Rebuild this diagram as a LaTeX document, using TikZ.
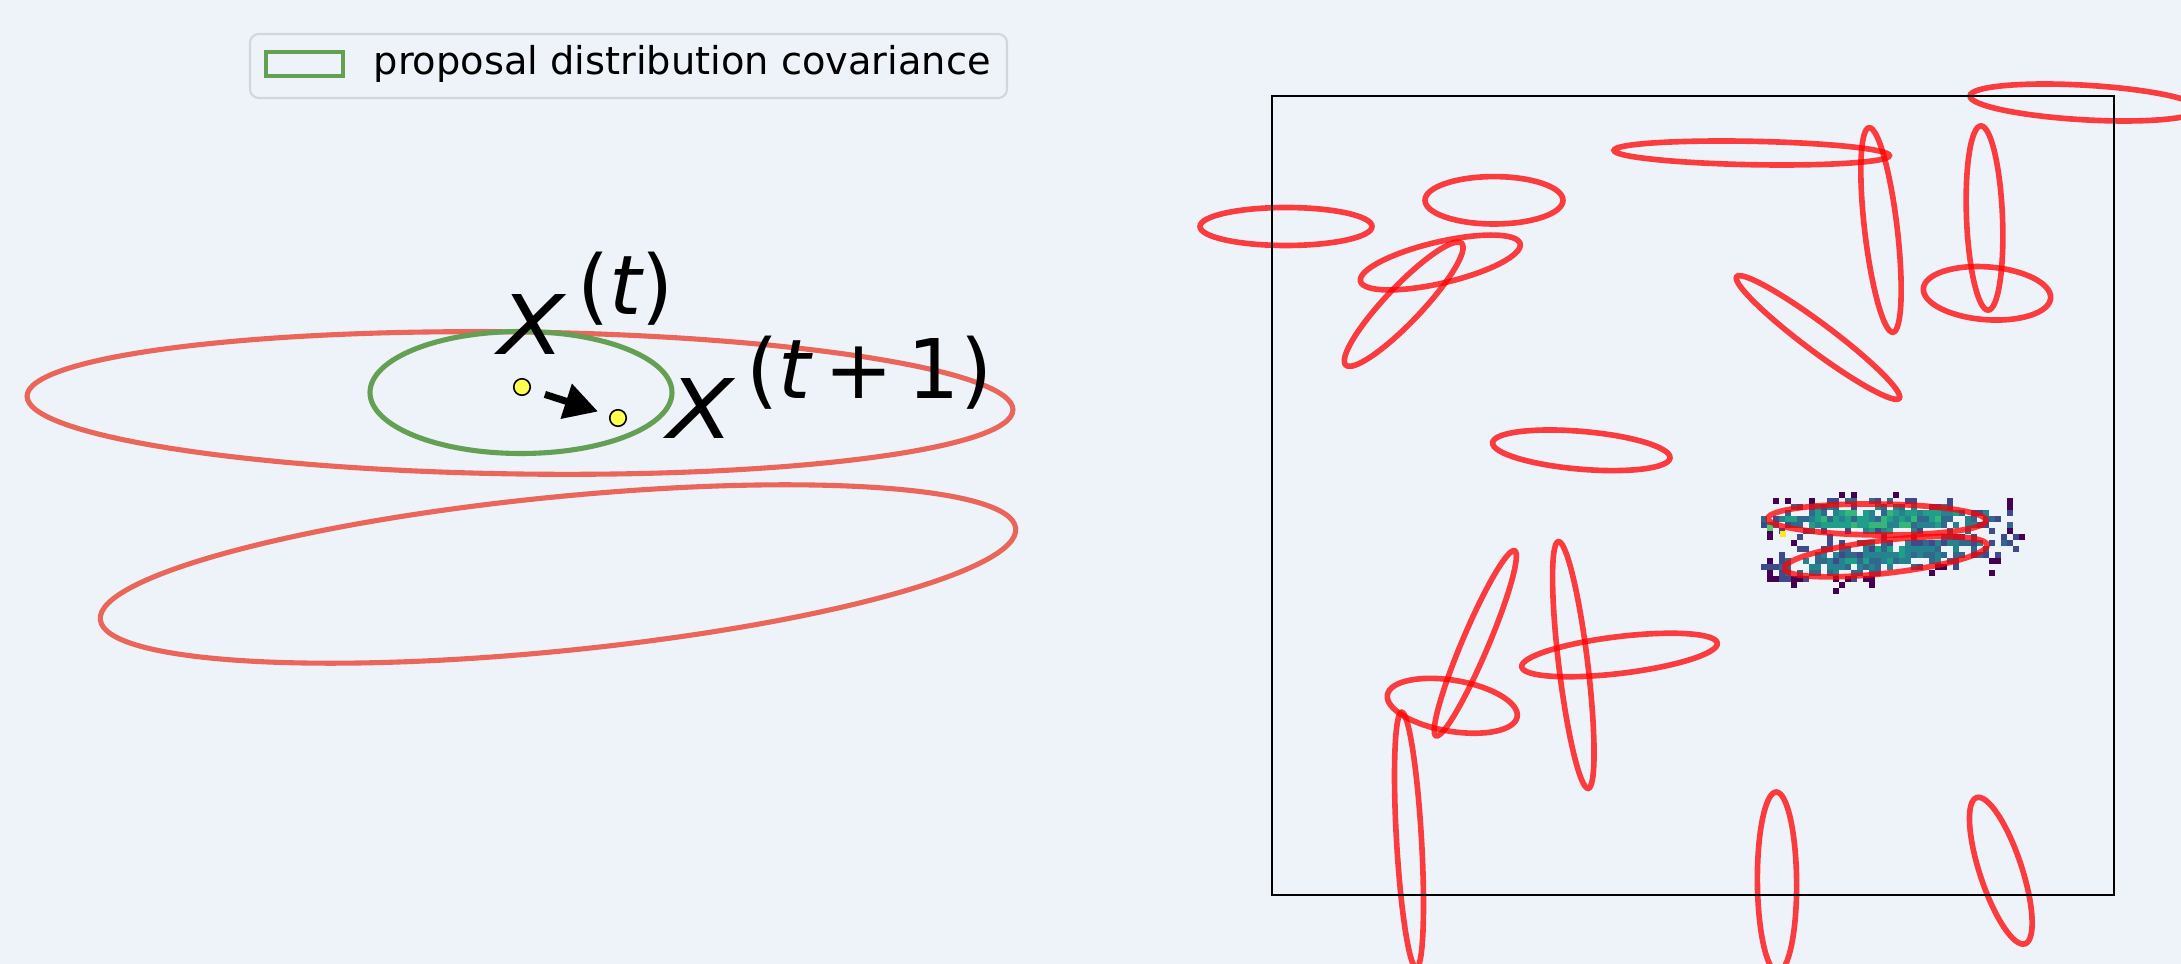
\documentclass[tikz,border=0pt]{standalone}
\usepackage{fontspec}
\setmainfont{DejaVu Sans}
\usepackage{xcolor}
\definecolor{paneBg}{HTML}{EEF2F9}
\definecolor{tgtRed}{HTML}{EA665A}
\definecolor{propGreen}{HTML}{63A054}
\definecolor{lgdEdge}{HTML}{D2D5DA}
\definecolor{dotYellow}{HTML}{FFFF4D}
\definecolor{vA}{HTML}{440154}
\definecolor{vB}{HTML}{3E4A89}
\definecolor{vC}{HTML}{31688E}
\definecolor{vD}{HTML}{26828E}
\definecolor{vE}{HTML}{1F9E89}
\definecolor{vF}{HTML}{35B779}
\definecolor{vG}{HTML}{5EC962}
\definecolor{vH}{HTML}{FDE725}
\usepackage{tikz}
\usetikzlibrary{arrows.meta}

\begin{document}
\begin{tikzpicture}[x=0.01cm, y=-0.01cm,
  targetell/.style={draw=tgtRed, line width=1.45pt},
  propell/.style={draw=propGreen, line width=1.45pt},
  fitell/.style={draw=red, draw opacity=0.75, line width=1.6pt},
  dotpt/.style={circle, draw=black, line width=0.45pt, fill=dotYellow, minimum size=0.165cm, inner sep=0pt},
  jumparrow/.style={-{Triangle[length=9.5pt,width=10pt]}, line width=2pt, shorten <=0.15cm, shorten >=0.12cm},
  xlab/.style={anchor=base west, inner sep=0pt, font=\fontsize{23.4}{28}\selectfont}]
  \useasboundingbox (0,0) rectangle (2181,964);
  \fill[paneBg] (0,0) rectangle (2181,964);
  \clip (0,0) rectangle (2181,964);
  % ------- left: target covariances and one proposal move -------
  \draw[targetell, rotate around={-0.8:(520,403)}] (520,403) ellipse [x radius=493, y radius=71];
  \draw[targetell, rotate around={5.7:(558,574)}] (558,574) ellipse [x radius=460, y radius=77];
  \draw[propell] (521,392.5) ellipse [x radius=151, y radius=61];
  \node[dotpt] (xold) at (522,387) {};
  \node[dotpt] (xnew) at (618,418) {};
  \draw[jumparrow] (xold) -- (xnew);
  \node[xlab] (lblold) at (498,355) {\itshape\scalebox{1.18}[1]{X}\kern3.5pt\raisebox{11.5pt}{\upshape(\itshape t\upshape)}};
  \node[xlab] (lblnew) at (667,439) {\itshape\scalebox{1.18}[1]{X}\kern3.5pt\raisebox{11.4pt}{\upshape(\itshape t\upshape\kern4pt+\kern4pt1)}};
  % legend
  \draw[lgdEdge, line width=0.6pt, fill=paneBg, rounded corners=2.5pt] (250,34) rectangle (1007,98);
  \node[draw=propGreen, line width=1.2pt, minimum width=0.77cm, minimum height=0.24cm, inner sep=0pt] (lgdkey) at (304.5,64) {};
  \node[anchor=base west, inner sep=0pt, font=\fontsize{10.9}{13}\selectfont] (lgdtext) at (373,75) {proposal distribution covariance};
  % ------- right: sample histogram and fitted covariances -------
  \pgfmathsetseed{11}
  \foreach \i in {0,...,43} {
    \foreach \j in {0,...,16} {
      \pgfmathsetmacro\hx{1761+6*\i}
      \pgfmathsetmacro\hy{492+6*\j}
      \pgfmathsetmacro\da{((\hx+3-1877)/105)^2+((\hy+3-519)/14)^2}
      \pgfmathsetmacro\db{((\hx+3-1885)/100)^2+((\hy+3-556+0.116*(\hx+3-1885))/15)^2}
      \pgfmathsetmacro\dd{min(\da,\db)}
      \pgfmathsetmacro\pr{exp(-0.7*\dd)}
      \pgfmathsetmacro\ru{rnd}
      \ifdim\ru pt<\pr pt
        \pgfmathsetmacro\vv{(\da<\db ? 1 : 0.78)*exp(-0.6*\dd)*(0.4+0.7*rnd)}
        \ifdim\vv pt<0.18pt \def\hc{vA}\else
        \ifdim\vv pt<0.30pt \def\hc{vB}\else
        \ifdim\vv pt<0.45pt \def\hc{vC}\else
        \ifdim\vv pt<0.60pt \def\hc{vD}\else
        \ifdim\vv pt<0.82pt \def\hc{vE}\else \def\hc{vF}\fi\fi\fi\fi\fi
        \fill[\hc] (\hx,\hy) rectangle ++(6,6);
      \fi
    }
  }
  \fill[vG] (1767,525) rectangle ++(6,6);
  \fill[vH] (1780,531) rectangle ++(6,6);
  \foreach \cx/\cy/\ra/\rb/\ang in {2084.5/102.5/114.7/17.3/-3.3, 1751.7/153/137.7/11.7/-1.1,
      1286/226.5/86/19/0, 1494/200.3/69/23.7/0, 1440.3/262.5/82/20.6/13.2,
      1403.7/304.2/84/18/46.4, 1818/337.5/101.5/14/-36.8, 1881/230/16.3/103/6.7,
      1984.5/218/18/92.2/2.3, 1987/293.3/63.8/26.4/-4.3, 1581.3/450.3/89/18.9/-4.9,
      1877/519.5/109/15.5/-0.6, 1885.8/556.7/102/16.5/6.6, 1475.3/643.3/13/100.5/-23,
      1452.3/705.8/65.8/25.5/-9.6, 1409/840/12.5/128/3.3, 1573.3/665/14.5/124.3/6.9,
      1619.5/655/98.5/18.4/6.9, 1777/882/19.6/90/0.5, 2000.8/870.7/21/77/18.3} {
    \draw[fitell, rotate around={\ang:(\cx,\cy)}] (\cx,\cy) ellipse [x radius=\ra, y radius=\rb];
  }
  \draw[black, line width=0.6pt] (1272,96) rectangle (2114,895);
\end{tikzpicture}
\end{document}
